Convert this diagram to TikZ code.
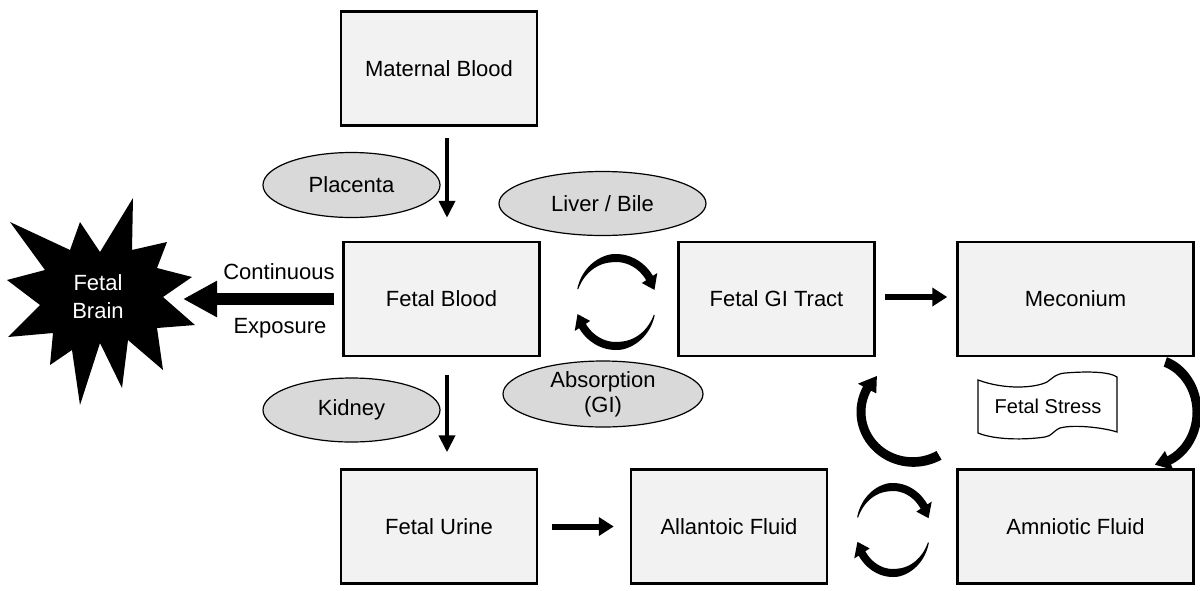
\documentclass[tikz,border=0pt]{standalone}
\usepackage{fontspec}
\setmainfont{Liberation Sans}
\usetikzlibrary{shapes.geometric,arrows.meta}
\definecolor{boxfill}{HTML}{F2F2F2}
\definecolor{ellfill}{HTML}{D9D9D9}
\newcommand{\crarrow}[9]{%
\fill[black] plot[domain=0:1,samples=40,variable=\t]
 ({#1+(#3+hw(\t,#8,#9))*cos(#5+(#6-#5)*\t)},{#2+(#4+hw(\t,#8,#9))*sin(#5+(#6-#5)*\t)})
 -- ({#1+(#3+2.3*#8)*cos(#6)},{#2+(#4+2.3*#8)*sin(#6)})
 -- ({#1+#3*cos(#7)},{#2+#4*sin(#7)})
 -- ({#1+(#3-2.3*#8)*cos(#6)},{#2+(#4-2.3*#8)*sin(#6)})
 -- plot[domain=0:1,samples=40,variable=\t]
 ({#1+(#3-hw(1-\t,#8,#9))*cos(#6+(#5-#6)*\t)},{#2+(#4-hw(1-\t,#8,#9))*sin(#6+(#5-#6)*\t)})
 -- cycle;}
\begin{document}
\begin{tikzpicture}[x=1pt,y=-1pt,
 declare function={hw(\pp,\qq,\rr)=\rr+(\qq-\rr)*min(1,2*\pp);},
 every node/.style={font=\fontsize{22}{26}\selectfont},
 box/.style={draw, line width=2.5pt, fill=boxfill, minimum width=196pt, minimum height=114pt, inner sep=0pt},
 widebox/.style={box, minimum width=236pt},
 ell/.style={ellipse, draw, line width=1.2pt, fill=ellfill, inner sep=0pt},
 varrow/.style={line width=4pt, -{Triangle[length=17pt,width=16pt]}},
 harrow/.style={line width=6pt, -{Triangle[length=15pt,width=18pt]}},
 bigarrow/.style={line width=12pt, -{Triangle[length=34pt,width=34pt]}}]
\useasboundingbox (0,0) rectangle (1200,590);
\fill[white] (0,0) rectangle (1200,590);

% boxes
\node[box] (maternal) at (439,68.5) {Maternal Blood};
\node[box] (fetalblood) at (441.5,299) {Fetal Blood};
\node[box] (gi) at (776.5,299) {Fetal GI Tract};
\node[widebox] (meconium) at (1075.5,299) {Meconium};
\node[box] (urine) at (439,526.5) {Fetal Urine};
\node[box] (allantoic) at (729,526.5) {Allantoic Fluid};
\node[widebox] (amniotic) at (1075.5,526.5) {Amniotic Fluid};

% ellipses
\node[ell, minimum width=177pt, minimum height=65pt] (placenta) at (351.5,185) {Placenta};
\node[ell, minimum width=207pt, minimum height=64pt] (liver) at (602.5,203.5) {Liver / Bile};
\node[ell, minimum width=177pt, minimum height=64pt] (kidney) at (351.5,410) {Kidney};
\node[ell, minimum width=200pt, minimum height=66pt, align=center] (absorption) at (603,394) {Absorption\\[-1pt](GI)};

% straight arrows
\draw[varrow, shorten <=11pt, shorten >=23pt] ([xshift=8pt]maternal.south) -- ([xshift=8pt]maternal.south |- fetalblood.north);
\draw[varrow, shorten <=18pt, shorten >=16pt] ([xshift=5.5pt]fetalblood.south) -- ([xshift=5.5pt]fetalblood.south |- urine.north);
\draw[harrow, shorten <=9pt, shorten >=9pt] ([yshift=2pt]gi.east) -- ([yshift=2pt]meconium.west);
\draw[harrow, shorten <=14pt, shorten >=16pt] (urine.east) -- (allantoic.west);

% fetal brain star
\fill[black] (133,198) -- (132,250) -- (167,242) -- (157,268) -- (192,277) -- (163,297)
 -- (195,325) -- (157,328) -- (163,370) -- (128,340) -- (122,388) -- (100,343)
 -- (80,405) -- (72,350) -- (50,365) -- (53,333) -- (8,337) -- (40,305)
 -- (7,280) -- (45,270) -- (10,222) -- (70,250) -- (80,222) -- (100,252) -- cycle;
\node[text=white, align=center] (brain) at (98,297) {Fetal\\[2pt]Brain};
\coordinate (brainin) at (183,299);
\draw[bigarrow, shorten <=8pt] (fetalblood.west) -- (brainin);
\node (cont) at (279,272) {Continuous};
\node (expo) at (280,328) {Exposure};

% circular arrows
\crarrow{616}{302}{40}{44}{197}{327}{344}{4}{0.5}
\crarrow{616}{302}{40}{44}{17}{147}{164}{4}{0.5}
\crarrow{893}{530}{37}{43}{197}{327}{344}{4}{0.5}
\crarrow{893}{530}{37}{43}{17}{147}{164}{4}{0.5}
\crarrow{913}{412}{52}{50}{60}{208}{226}{4.5}{5}
\crarrow{1150}{412}{47}{53}{289}{426}{444}{4.5}{5}

% fetal stress wave
\draw[line width=1.2pt, fill=white] (978,380) .. controls (1005,390) and (1035,388) .. (1047,382)
 .. controls (1053,378) and (1055,374) .. (1065,373) .. controls (1090,371) and (1110,372) .. (1117,377)
 -- (1117,432) .. controls (1105,428) and (1075,424) .. (1060,428)
 .. controls (1053,431) and (1052,436) .. (1045,437) .. controls (1025,440) and (995,440) .. (978,433) -- cycle;
\node[font=\fontsize{20}{24}\selectfont] (stress) at (1048,406) {Fetal Stress};
\end{tikzpicture}
\end{document}
